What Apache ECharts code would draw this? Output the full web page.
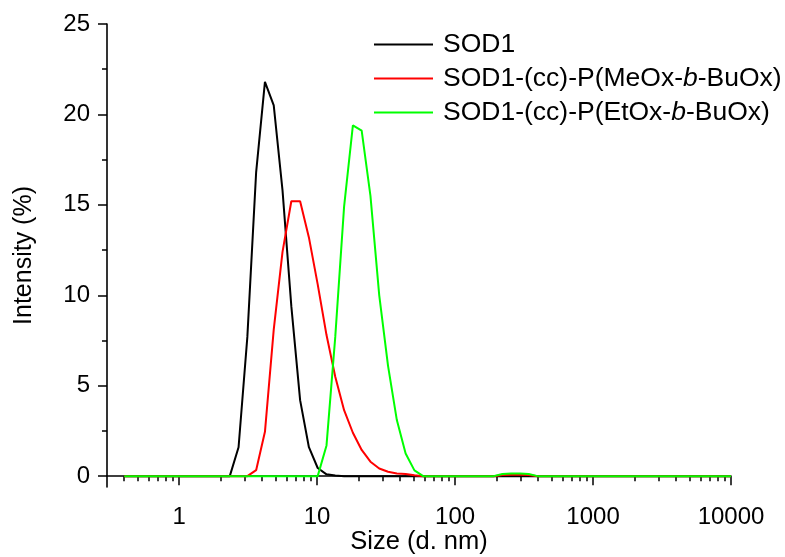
<!DOCTYPE html>
<html>
<head>
<meta charset="utf-8">
<script src="https://cdn.jsdelivr.net/npm/echarts@6/dist/echarts.min.js"></script>
<style>html,body{margin:0;padding:0;background:#fff}#c{width:785px;height:557px}</style>
</head>
<body>
<div id="c"></div>
<script>
// Size bins (d. nm)
const sizes = [0.4, 0.4632, 0.5365, 0.6213, 0.7195, 0.8332, 0.9649, 1.117, 1.294, 1.499,
  1.736, 2.01, 2.328, 2.696, 3.122, 3.615, 4.187, 4.849, 5.615, 6.503,
  7.531, 8.721, 10.1, 11.7, 13.54, 15.69, 18.17, 21.04, 24.36, 28.21,
  32.67, 37.84, 43.82, 50.75, 58.77, 68.06, 78.82, 91.28, 105.7, 122.4,
  141.8, 164.2, 190.1, 220.2, 255, 295.3, 342, 396.1, 458.7, 531.2,
  615.1, 712.4, 825, 955.4, 1106, 1281, 1484, 1718, 1990, 2305,
  2669, 3091, 3580, 4145, 4801, 5560, 6439, 7456, 8635, 10000];

const sod1 = [0, 0, 0, 0, 0, 0, 0, 0, 0, 0,
  0, 0, 0, 1.6, 7.7, 16.8, 21.8, 20.5, 15.8, 9.4,
  4.2, 1.6, 0.45, 0.1, 0.03, 0, 0, 0, 0, 0,
  0, 0, 0, 0, 0, 0, 0, 0, 0, 0,
  0, 0, 0, 0, 0, 0, 0, 0, 0, 0,
  0, 0, 0, 0, 0, 0, 0, 0, 0, 0,
  0, 0, 0, 0, 0, 0, 0, 0, 0, 0];

const sodMeOx = [0, 0, 0, 0, 0, 0, 0, 0, 0, 0,
  0, 0, 0, 0, 0, 0.33, 2.45, 8.1, 12.4, 15.2,
  15.2, 13.2, 10.6, 7.8, 5.5, 3.65, 2.4, 1.45, 0.8, 0.42,
  0.24, 0.15, 0.12, 0.05, 0, 0, 0, 0, 0, 0,
  0, 0, 0, 0.06, 0.08, 0.08, 0.06, 0, 0, 0,
  0, 0, 0, 0, 0, 0, 0, 0, 0, 0,
  0, 0, 0, 0, 0, 0, 0, 0, 0, 0];

const sodEtOx = [0, 0, 0, 0, 0, 0, 0, 0, 0, 0,
  0, 0, 0, 0, 0, 0, 0, 0, 0, 0,
  0, 0, 0, 1.7, 7.7, 14.9, 19.4, 19.1, 15.5, 10.0,
  6.1, 3.1, 1.25, 0.32, 0, 0, 0, 0, 0, 0,
  0, 0, 0, 0.12, 0.14, 0.14, 0.12, 0, 0, 0,
  0, 0, 0, 0, 0, 0, 0, 0, 0, 0,
  0, 0, 0, 0, 0, 0, 0, 0, 0, 0];

const seriesNames = ['SOD1', 'SOD1-(cc)-P(MeOx-b-BuOx)', 'SOD1-(cc)-P(EtOx-b-BuOx)'];
const seriesColors = ['#000000', '#ff0000', '#00ff00'];

const xMajorTicks = [1, 10, 100, 1000, 10000];
const xMinorTicks = [0.4, 0.5, 0.6, 0.7, 0.8, 0.9,
  2, 3, 4, 5, 6, 7, 8, 9,
  20, 30, 40, 50, 60, 70, 80, 90,
  200, 300, 400, 500, 600, 700, 800, 900,
  2000, 3000, 4000, 5000, 6000, 7000, 8000, 9000];
const yMajorTicks = [0, 5, 10, 15, 20, 25];
const yMinorTicks = [2.5, 7.5, 12.5, 17.5, 22.5];

const FONT = 'Liberation Sans, Arial, sans-serif';
const pairs = arr => sizes.map((s, i) => [s, arr[i]]);
const values = [sod1, sodMeOx, sodEtOx];

const chart = echarts.init(document.getElementById('c'), null, {renderer: 'canvas'});
const axisLine = {show: true, lineStyle: {color: '#000', width: 1.6}};
chart.setOption({
  animation: false,
  backgroundColor: '#fff',
  grid: {left: 107, right: 54, top: 24, bottom: 70, containLabel: false, outerBoundsMode: 'none'},
  legend: {
    orient: 'vertical', left: 374, top: 31, padding: 0,
    icon: 'rect', itemWidth: 59, itemHeight: 2, itemGap: 7,
    data: seriesNames,
    formatter: n => n.replace('-b-', '-{i|b}-'),
    textStyle: {
      fontFamily: FONT, fontSize: 26.5, color: '#000', lineHeight: 26, padding: [0, 0, 0, 5],
      rich: {i: {fontFamily: FONT, fontSize: 26.5, fontStyle: 'italic', color: '#000', lineHeight: 26}}
    }
  },
  xAxis: [{
    type: 'log', logBase: 10, min: 0.3, max: 10000, position: 'bottom',
    name: 'Size (d. nm)', nameLocation: 'middle', nameGap: 42, nameMoveOverlap: false,
    nameTextStyle: {fontFamily: FONT, fontSize: 25.5, color: '#000'},
    axisLine: axisLine,
    axisTick: {show: true, inside: false, length: 9, lineStyle: {color: '#000', width: 1.5}, customValues: xMajorTicks},
    axisLabel: {show: true, margin: 18, fontFamily: FONT, fontSize: 24, color: '#000',
      customValues: xMajorTicks, formatter: v => String(Math.round(v))},
    splitLine: {show: false}, minorTick: {show: false}
  }, {
    type: 'log', logBase: 10, min: 0.3, max: 10000, position: 'bottom', offset: 0,
    axisLine: {show: false},
    axisTick: {show: true, inside: false, length: 5, lineStyle: {color: '#000', width: 1.5}, customValues: xMinorTicks},
    axisLabel: {show: false},
    splitLine: {show: false}
  }],
  yAxis: [{
    type: 'value', min: -0.6, max: 25, position: 'left',
    name: 'Intensity (%)', nameLocation: 'middle', nameGap: 70, nameRotate: 90, nameMoveOverlap: false,
    nameTextStyle: {fontFamily: FONT, fontSize: 25, color: '#000'},
    axisLine: axisLine,
    axisTick: {show: true, inside: false, length: 9, lineStyle: {color: '#000', width: 1.5}, customValues: yMajorTicks},
    axisLabel: {show: true, margin: 17, fontFamily: FONT, fontSize: 24, color: '#000', customValues: yMajorTicks},
    splitLine: {show: false}
  }, {
    type: 'value', min: -0.6, max: 25, position: 'left', offset: 0,
    axisLine: {show: false},
    axisTick: {show: true, inside: false, length: 5, lineStyle: {color: '#000', width: 1.5}, customValues: yMinorTicks},
    axisLabel: {show: false},
    splitLine: {show: false}
  }],
  series: seriesNames.map((name, k) => ({
    name: name, type: 'line', xAxisIndex: 0, yAxisIndex: 0,
    data: pairs(values[k]), symbol: 'none', showSymbol: false,
    color: seriesColors[k],
    lineStyle: {color: seriesColors[k], width: 2},
    itemStyle: {color: seriesColors[k]},
    z: 2 + k
  }))
});
</script>
</body>
</html>
